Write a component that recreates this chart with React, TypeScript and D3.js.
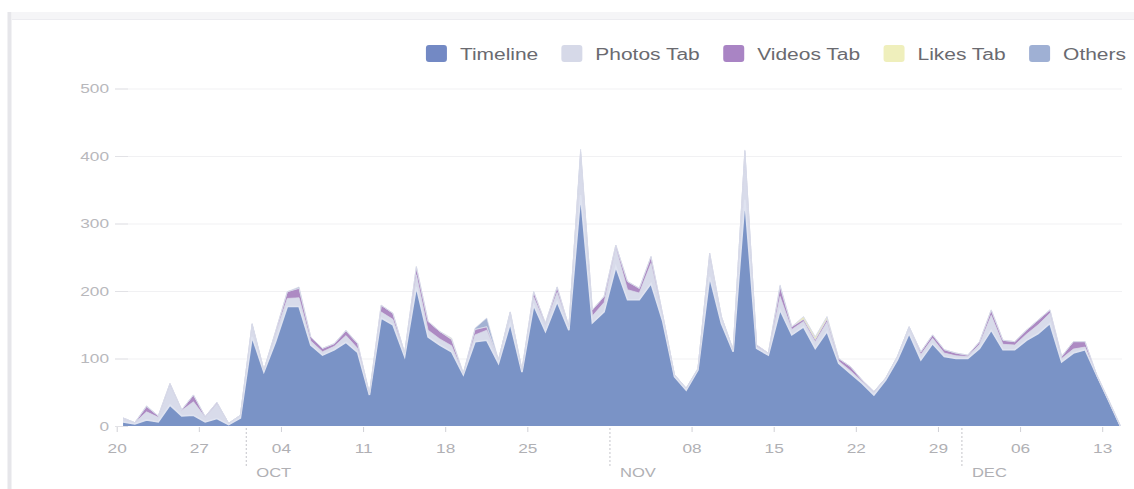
import React, { useMemo } from "react";
import * as d3 from "d3";

const START = Date.UTC(2015, 8, 20); // Sep 20
const END_TICK = Date.UTC(2015, 11, 13); // Dec 13

const seriesNames = ["Timeline", "Photos Tab", "Videos Tab", "Likes Tab", "Others"];
const seriesColors = ["#7a93c6", "#d8dbea", "#ad8ac3", "#ededbb", "#a3b2d3"];
const legendColors = ["#7389c4", "#d6d9e8", "#a984c4", "#efefbc", "#9fb0d4"];

const timeline = [6, 3, 9, 6, 31, 15, 16, 6, 11, 2, 12, 132, 80, 125, 177, 177, 120, 105, 113, 124, 109, 46,
  160, 150, 103, 206, 132, 120, 110, 76, 125, 127, 93, 152, 80, 179, 140, 184, 142, 342, 153, 169, 236, 187, 187, 211,
  155, 73, 53, 83, 221, 152, 110, 335, 115, 105, 172, 135, 147, 115, 140, 93, 78, 63, 46, 68, 98, 137, 98, 122, 103,
  100, 100, 115, 142, 113, 113, 127, 137, 152, 95, 108, 113, 75, 38, 0];
const photosTab = [5, 2, 12, 7, 30, 8, 20, 7, 22, 2, 4, 18, 3, 12, 12, 13, 6, 5, 5, 10, 6, 2,
  9, 8, 5, 18, 10, 9, 9, 2, 10, 15, 5, 16, 3, 12, 10, 14, 5, 62, 10, 14, 28, 15, 10, 30,
  8, 3, 3, 2, 30, 10, 3, 70, 3, 3, 20, 8, 8, 10, 14, 3, 4, 3, 4, 3, 5, 10, 8, 8, 5,
  4, 3, 6, 22, 8, 7, 9, 13, 15, 5, 6, 4, 0, 0, 0];
const videosTab = [1, 0, 8, 2, 2, 1, 10, 1, 2, 0, 0, 1, 0, 3, 10, 14, 6, 5, 4, 7, 7, 0,
  10, 9, 0, 12, 13, 11, 9, 0, 8, 5, 0, 1, 0, 8, 2, 8, 0, 2, 9, 9, 4, 12, 7, 10,
  2, 0, 0, 0, 5, 0, 0, 2, 2, 0, 15, 4, 3, 3, 4, 4, 6, 2, 1, 0, 0, 0, 4, 5, 5,
  4, 2, 4, 8, 6, 5, 6, 7, 5, 3, 11, 8, 0, 0, 0];
const likesTab = [0, 0, 0, 0, 0, 0, 0, 0, 0, 0, 0, 0, 0, 0, 0, 0, 0, 0, 0, 0, 0, 0,
  0, 0, 0, 0, 0, 0, 2, 0, 0, 0, 0, 0, 0, 0, 0, 0, 0, 0, 0, 0, 0, 0, 0, 0,
  0, 0, 0, 0, 0, 0, 0, 0, 0, 0, 0, 0, 4, 4, 4, 0, 0, 0, 0, 0, 0, 0, 0, 0, 0,
  0, 0, 0, 0, 0, 0, 0, 0, 0, 0, 0, 0, 0, 0, 0];
const others = [0, 0, 1, 0, 0, 0, 0, 0, 0, 0, 0, 1, 0, 0, 0, 2, 0, 0, 0, 1, 0, 0,
  0, 0, 0, 0, 0, 0, 0, 0, 2, 13, 0, 0, 0, 0, 0, 0, 0, 4, 0, 0, 0, 0, 0, 0,
  0, 0, 0, 0, 0, 0, 0, 2, 0, 0, 2, 0, 0, 0, 0, 0, 0, 0, 0, 0, 0, 0, 0, 0, 0,
  0, 0, 0, 0, 0, 0, 0, 0, 0, 0, 0, 0, 0, 0, 0];
const yTicks = [0, 100, 200, 300, 400, 500];

const FONT = "'Liberation Sans', Arial, sans-serif";
const SX = 1.38;
const LSX = 1.31;

function measure(text: string, size: number) {
  const c = document.createElement("canvas").getContext("2d");
  if (!c) return text.length * size * 0.55;
  c.font = `${size}px ${FONT}`;
  return c.measureText(text).width;
}

export default function App() {
  const W = 1134, H = 489;
  const x = d3.scaleUtc().domain([START, END_TICK]).range([117.2, 1102.7]);
  const y = d3.scaleLinear().domain([0, 500]).range([426, 88.5]);

  const rows = useMemo(() => timeline.map((_, i) => ({
    date: START + i * 86400000 + 43200000,
    s0: timeline[i], s1: photosTab[i], s2: videosTab[i], s3: likesTab[i], s4: others[i],
  })), []);
  const stack = d3.stack<any>().keys(["s0", "s1", "s2", "s3", "s4"])(rows);
  const area = d3.area<any>().x((d) => x(d.data.date)).y0((d) => y(d[0])).y1((d) => y(d[1])).curve(d3.curveLinear);
  const line = d3.line<any>().x((d) => x(d.data.date)).y((d) => y(d[1]));

  const months = d3.utcMonth.range(new Date(START), new Date(END_TICK));
  const monthSet = new Set(months.map((m) => +m));
  const dayTicks = d3.utcDay.range(new Date(START), new Date(END_TICK + 1))
    .filter((_, i) => i % 7 === 0)
    .filter((d) => !monthSet.has(+d));
  const fmtDay = d3.utcFormat("%d");
  const fmtMon = d3.utcFormat("%b");

  // legend layout (right aligned)
  const LS = 16;
  const items = seriesNames.map((n) => ({ n, w: measure(n, LS) * LSX }));
  const sq = 21, gapSq = 13, gapItem = 23;
  const totalW = items.reduce((a, it) => a + sq + gapSq + it.w, 0) + gapItem * (items.length - 1);
  let lx = 1126 - totalW;
  const legend = items.map((it, i) => {
    const o = { ...it, x: lx, color: legendColors[i] };
    lx += sq + gapSq + it.w + gapItem;
    return o;
  });

  return (
    <svg width={W} height={H} style={{ position: "absolute", left: 0, top: 0, background: "#fff" }} fontFamily={FONT}>
      <rect x={0} y={0} width={W} height={H} fill="#fff" />
      {/* frame */}
      <rect x={12} y={12} width={W - 12} height={7} fill="#f5f5f7" />
      <line x1={12} x2={W} y1={19.5} y2={19.5} stroke="#ececf0" />
      <rect x={7.5} y={12} width={4} height={H - 12} fill="#e6e6ea" />

      {/* grid */}
      {yTicks.map((t) => (
        <g key={t}>
          {t > 0 && <line x1={115} x2={1122} y1={y(t) + 0.5} y2={y(t) + 0.5} stroke="#f1f1f3" />}
          <line x1={115} x2={128} y1={y(t) + 0.5} y2={y(t) + 0.5} stroke="#e2e2e6" />
          <text transform={`translate(109,${y(t) + 4.5}) scale(${SX},1)`} textAnchor="end" fontSize={12.5} fill="#b8b8bc">{t}</text>
        </g>
      ))}

      {/* areas */}
      {stack.map((layer, i) => (
        <path key={"a" + i} d={area(layer) || ""} fill={seriesColors[i]} />
      ))}
      {stack.map((layer, i) => (
        <path key={"l" + i} d={line(layer) || ""} fill="none" stroke={i === 0 ? "#dfe3f0" : "rgba(215,218,232,0.7)"} strokeWidth={i === 0 ? 1.6 : 1} />
      ))}

      {/* x ticks */}
      {dayTicks.map((d) => (
        <g key={+d}>
          <line x1={x(d)} x2={x(d)} y1={427} y2={432} stroke="#d0d0d6" />
          <text transform={`translate(${x(d)},453) scale(${SX},1)`} textAnchor="middle" fontSize={12.5} fill="#b0b0b4">{fmtDay(d)}</text>
        </g>
      ))}
      {months.map((m) => (
        <g key={+m}>
          <line x1={x(m)} x2={x(m)} y1={428} y2={466} stroke="#c4c4ca" strokeDasharray="2,2" />
          <text transform={`translate(${x(m) + 10},477) scale(${SX},1)`} fontSize={12} fill="#b0b0b4">{fmtMon(m).toUpperCase()}</text>
        </g>
      ))}

      {/* legend */}
      {legend.map((it) => (
        <g key={it.n}>
          <rect x={it.x} y={45} width={sq} height={17} rx={3} fill={it.color} />
          <text transform={`translate(${it.x + sq + gapSq},59.5) scale(${LSX},1)`} fontSize={LS} fill="#6a6a70">{it.n}</text>
        </g>
      ))}
    </svg>
  );
}
